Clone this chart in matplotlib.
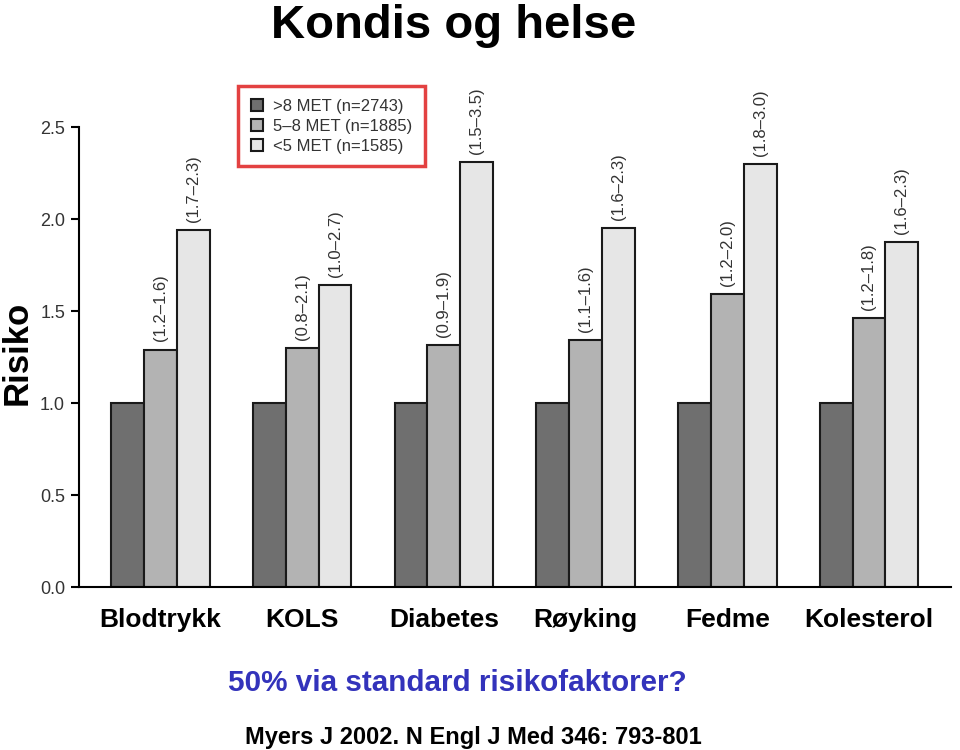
import numpy as np
import matplotlib.pyplot as plt
from matplotlib.ticker import MultipleLocator, FormatStrFormatter

plt.rcParams['font.family'] = ['Liberation Sans', 'DejaVu Sans']

# data
categories = ['Blodtrykk', 'KOLS', 'Diabetes', 'Røyking', 'Fedme', 'Kolesterol']
series_names = ['>8 MET (n=2743)', '5–8 MET (n=1885)', '<5 MET (n=1585)']
high_met = [1.0, 1.0, 1.0, 1.0, 1.0, 1.0]
mid_met = [1.29, 1.30, 1.315, 1.34, 1.59, 1.46]
low_met = [1.94, 1.64, 2.31, 1.95, 2.30, 1.875]
mid_ci = ['(1.2–1.6)', '(0.8–2.1)', '(0.9–1.9)', '(1.1–1.6)', '(1.2–2.0)', '(1.2–1.8)']
low_ci = ['(1.7–2.3)', '(1.0–2.7)', '(1.5–3.5)', '(1.6–2.3)', '(1.8–3.0)', '(1.6–2.3)']

colors = ['#6f6f6f', '#b3b3b3', '#e6e6e6']

fig = plt.figure(figsize=(9.6, 7.5), dpi=100)
ax = fig.add_axes([0.0823, 0.2173, 0.9083, 0.6133])

x = np.arange(len(categories))
w = 0.232
bars = []
for k, vals in enumerate([high_met, mid_met, low_met]):
    b = ax.bar(x + (k - 1) * w, vals, width=w, color=colors[k],
               edgecolor='#1a1a1a', linewidth=1.5, label=series_names[k], zorder=2)
    bars.append(b)

# konfidensintervall over stolpene
for k, labels in [(1, mid_ci), (2, low_ci)]:
    for rect, lab in zip(bars[k], labels):
        ax.annotate(lab, (rect.get_x() + rect.get_width() / 2, rect.get_height()),
                    xytext=(0, 6), textcoords='offset points', rotation=90,
                    ha='center', va='bottom', fontsize=12, color='#333333')

ax.set_xlim(-0.575, 5.579)
ax.set_ylim(0, 2.5)
ax.yaxis.set_major_locator(MultipleLocator(0.5))
ax.yaxis.set_major_formatter(FormatStrFormatter('%1.1f'))
ax.tick_params(axis='y', direction='out', length=6, width=1.5, labelsize=13,
               labelcolor='#333333', pad=4)
ax.set_xticks(x)
ax.set_xticklabels(categories, fontsize=19, fontweight='bold')
ax.tick_params(axis='x', length=0, pad=15)
for s in ['top', 'right']:
    ax.spines[s].set_visible(False)
ax.spines['left'].set_linewidth(1.5)
ax.spines['bottom'].set_linewidth(1.5)

leg = ax.legend(loc='upper left', bbox_to_anchor=(238 / 960, 1 - 86 / 750),
                bbox_transform=fig.transFigure, fontsize=12, frameon=True,
                fancybox=False, handlelength=0.75, handleheight=0.75,
                handletextpad=0.6, labelspacing=0.3, borderpad=0.75,
                borderaxespad=0)
leg.get_frame().set_edgecolor('#dd1111')
leg.get_frame().set_linewidth(2.5)
for t in leg.get_texts():
    t.set_color('#333333')

fig.text(0.4724, 1 - 38 / 750, 'Kondis og helse', ha='center', va='baseline',
         fontsize=34, fontweight='bold')
fig.text(0.001, 0.529, 'Risiko', rotation=90, ha='left', va='center',
         fontsize=25, fontweight='bold')
fig.text(0.476, 0.089, '50% via standard risikofaktorer?', ha='center', va='center',
         fontsize=21.3, fontweight='bold', color='#3333bb')
fig.text(0.493, 0.017, 'Myers J 2002. N Engl J Med 346: 793-801', ha='center',
         va='center', fontsize=17, fontweight='bold')

fig.savefig('out.png', dpi=100)
